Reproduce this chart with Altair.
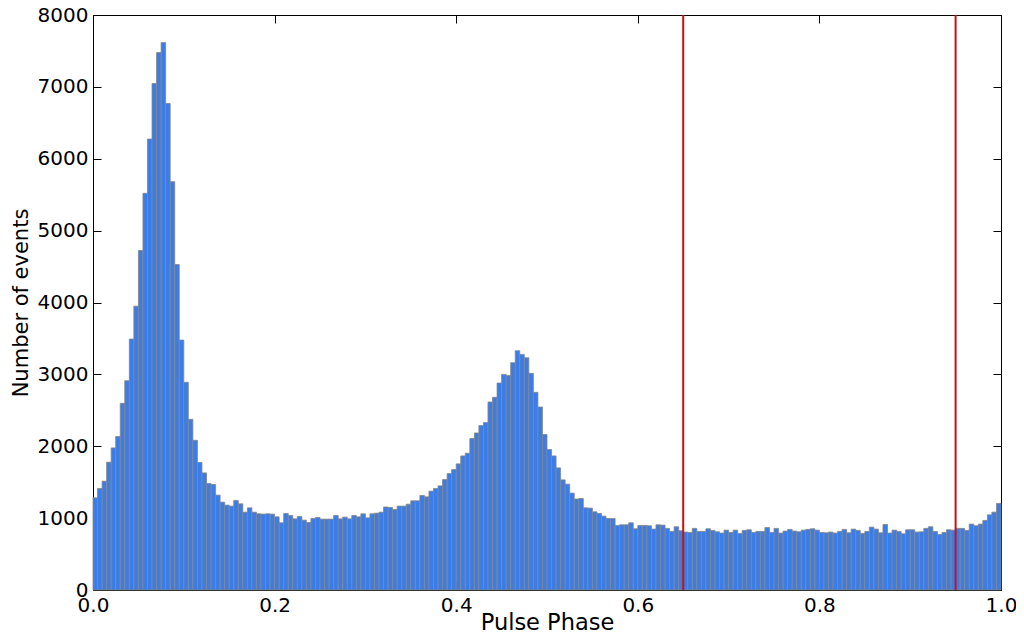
import altair as alt
import pandas as pd

# Histogram of pulse phase: 200 bins of width 0.005 on [0, 1]
counts = [
    1282, 1412, 1514, 1778, 1977, 2135, 2597, 2912, 3491, 3949,
    4723, 5519, 6274, 7046, 7477, 7616, 6769, 5681, 4528, 3477,
    2889, 2375, 2083, 1774, 1629, 1482, 1468, 1320, 1222, 1181,
    1167, 1246, 1199, 1083, 1143, 1083, 1060, 1056, 1060, 1056,
    1018, 935, 1065, 1037, 990, 1023, 972, 940, 995, 1009,
    986, 986, 986, 1037, 990, 1014, 990, 1037, 1018, 1060,
    1004, 1060, 1069, 1083, 1155, 1148, 1120, 1167, 1167, 1194,
    1241, 1241, 1315, 1296, 1375, 1412, 1449, 1537, 1620, 1676,
    1755, 1866, 1903, 2107, 2185, 2287, 2329, 2616, 2681, 2880,
    3000, 2986, 3162, 3329, 3278, 3232, 3014, 2750, 2546, 2163,
    1954, 1866, 1699, 1532, 1472, 1348, 1266, 1273, 1143, 1139,
    1088, 1065, 1028, 995, 995, 898, 907, 907, 935, 852,
    898, 898, 894, 847, 907, 903, 857, 815, 880, 824,
    806, 801, 857, 815, 815, 852, 829, 810, 792, 833,
    801, 833, 787, 829, 838, 801, 815, 815, 870, 801,
    857, 792, 820, 843, 820, 810, 833, 843, 852, 833,
    801, 796, 806, 792, 815, 843, 796, 847, 829, 787,
    815, 875, 847, 796, 912, 792, 833, 815, 782, 838,
    838, 806, 810, 857, 880, 815, 773, 801, 838, 833,
    857, 857, 829, 917, 894, 917, 968, 1046, 1083, 1204,
]
n_bins = len(counts)
bin_width = 1.0 / n_bins
phase_start = [i * bin_width for i in range(n_bins)]
phase_end = [(i + 1) * bin_width for i in range(n_bins)]

marker_phases = [0.65, 0.95]
x_ticks = [0.0, 0.2, 0.4, 0.6, 0.8, 1.0]
y_ticks = [0, 1000, 2000, 3000, 4000, 5000, 6000, 7000, 8000]

bars_df = pd.DataFrame({"start": phase_start, "end": phase_end, "count": counts})
lines_df = pd.DataFrame({"phase": marker_phases})

FONT = "DejaVu Sans"
xscale = alt.Scale(domain=[0, 1], nice=False, zero=False)
yscale = alt.Scale(domain=[0, 8000], nice=False)

common_axis = dict(offset=-8, tickSize=8, tickColor="black", tickWidth=1,
                   domain=False, grid=False, labelFlush=False)

bars = alt.Chart(bars_df).mark_rect(
    fill="#3b7de8", stroke="#858585", strokeWidth=0.8
).encode(
    x=alt.X("start:Q", scale=xscale,
            axis=alt.Axis(values=x_ticks, format=".1f", title="Pulse Phase",
                          labelPadding=5, titleFontSize=22.5,
                          titleBaseline="alphabetic", titleY=47,
                          **common_axis)),
    x2="end:Q",
    y=alt.Y("count:Q", scale=yscale,
            axis=alt.Axis(values=y_ticks, format="d", title="Number of events",
                          labelPadding=5, titlePadding=6, titleFontSize=21,
                          **common_axis)),
)

frame_ticks = alt.Chart(bars_df).mark_point(opacity=0).encode(
    x=alt.X("start:Q", scale=xscale,
            axis=alt.Axis(orient="top", values=x_ticks, labels=False, title=None,
                          **common_axis)),
    y=alt.Y("count:Q", scale=yscale,
            axis=alt.Axis(orient="right", values=y_ticks, labels=False, title=None,
                          **common_axis)),
)

lines = alt.Chart(lines_df).mark_rule(color="#cc1111", strokeWidth=2).encode(
    x=alt.X("phase:Q", scale=xscale, axis=None)
)

chart = alt.layer(bars, lines, frame_ticks).resolve_axis(
    x="independent", y="independent"
).properties(
    width=908, height=575, autosize="none",
    padding={"left": 85, "top": 7, "right": 15, "bottom": 43},
).configure_view(
    stroke="black", strokeWidth=1
).configure_axis(
    labelFont=FONT, titleFont=FONT, labelFontSize=20,
    labelColor="black", titleColor="black", titleFontWeight="normal",
)

chart.save("out.html", embed_options={"renderer": "svg", "actions": False})
